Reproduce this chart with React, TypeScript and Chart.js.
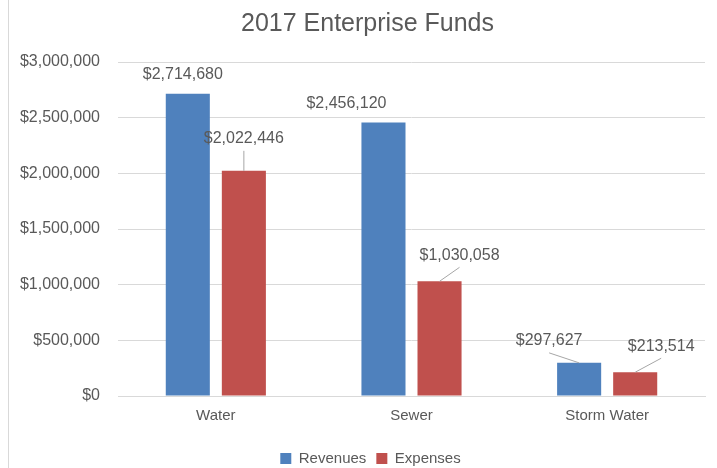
import React, { useEffect, useRef } from "react";
import { Chart, registerables } from "chart.js";

Chart.register(...registerables);

const categories = ["Water", "Sewer", "Storm Water"];
const revenues = [2714680, 2456120, 297627];
const expenses = [2022446, 1030058, 213514];
const seriesNames = ["Revenues", "Expenses"];
const yMin = 0;
const yMax = 3000000;
const yStep = 500000;

// label placement relative to top-centre of each bar: [dx, dy, leaderLine]
const labelPlacement: [number, number, boolean][][] = [
  [[-5, -19, false], [-37, -19, false], [-30, -22, true]],
  [[0, -32, true], [20, -26, true], [26, -26, true]],
];

const FONT = "'Liberation Sans', Arial, sans-serif";
const TEXT = "#595959";

const fmt = (v: number) => "$" + Math.round(v).toLocaleString("en-US");

const labelPlugin = {
  id: "barLabels",
  afterLayout(chart: any) {
    const t = chart.titleBlock;
    if (t) {
      t.left += 15;
      t.right += 15;
    }
    const l = chart.legend;
    if (l) {
      l.left += 18;
      l.right += 18;
    }
  },
  beforeDraw(chart: any) {
    const ctx = chart.ctx;
    ctx.save();
    ctx.strokeStyle = "#d9d9d9";
    ctx.lineWidth = 1;
    ctx.beginPath();
    ctx.moveTo(8.5, 0);
    ctx.lineTo(8.5, chart.height);
    ctx.stroke();
    ctx.restore();
  },
  afterDatasetsDraw(chart: any) {
    const ctx = chart.ctx;
    ctx.save();
    chart.data.datasets.forEach((ds: any, di: number) => {
      const meta = chart.getDatasetMeta(di);
      meta.data.forEach((bar: any, i: number) => {
        const [dx, dy, leader] = labelPlacement[di][i];
        const lx = bar.x + dx;
        const ly = bar.y + dy;
        if (leader) {
          ctx.strokeStyle = "#a6a6a6";
          ctx.lineWidth = 1;
          ctx.beginPath();
          ctx.moveTo(lx, ly + 12);
          ctx.lineTo(bar.x, bar.y);
          ctx.stroke();
        }
        ctx.fillStyle = TEXT;
        ctx.font = `16px ${FONT}`;
        ctx.textAlign = "center";
        ctx.textBaseline = "middle";
        ctx.fillText(fmt(ds.data[i]), lx, ly);
      });
    });
    ctx.restore();
  },
};

export default function App() {
  const ref = useRef<HTMLCanvasElement>(null);
  useEffect(() => {
    if (!ref.current) return;
    const chart = new Chart(ref.current, {
      type: "bar",
      data: {
        labels: categories,
        datasets: [
          {
            label: seriesNames[0],
            data: revenues,
            backgroundColor: "#4F81BD",
            categoryPercentage: 0.573,
            barPercentage: 0.786,
          },
          {
            label: seriesNames[1],
            data: expenses,
            backgroundColor: "#C0504D",
            categoryPercentage: 0.573,
            barPercentage: 0.786,
          },
        ],
      },
      options: {
        animation: false,
        responsive: false,
        maintainAspectRatio: false,
        layout: { padding: { left: 0, right: 12, top: 0, bottom: -8 } },
        plugins: {
          title: {
            display: true,
            text: "2017 Enterprise Funds",
            color: TEXT,
            font: { family: FONT, size: 25, weight: "normal", lineHeight: 1.2 },
            padding: { top: 9, bottom: 23 },
          },
          legend: {
            position: "bottom",
            labels: {
              color: TEXT,
              font: { family: FONT, size: 15 },
              boxWidth: 11,
              boxHeight: 11,
              padding: 10,
            },
          },
          tooltip: { enabled: false },
        },
        scales: {
          x: {
            grid: { display: false, drawTicks: false },
            border: { display: true, color: "#d9d9d9" },
            ticks: { color: TEXT, font: { family: FONT, size: 15 }, padding: 11 },
            afterFit: (s: any) => {
              s.height = 45;
            },
          },
          y: {
            min: yMin,
            max: yMax,
            grid: { color: "#d9d9d9", drawTicks: false },
            border: { display: false },
            ticks: {
              stepSize: yStep,
              color: TEXT,
              font: { family: FONT, size: 16 },
              padding: 18,
              callback: (v: any) => fmt(Number(v)),
            },
            afterFit: (s: any) => {
              s.width = 118;
            },
          },
        },
      },
      plugins: [labelPlugin],
    });
    return () => chart.destroy();
  }, []);
  return (
    <div style={{ position: "fixed", left: 0, top: 0, width: 717, height: 468, background: "#fff" }}>
      <canvas ref={ref} width={717} height={468} style={{ width: 717, height: 468, display: "block" }} />
    </div>
  );
}
